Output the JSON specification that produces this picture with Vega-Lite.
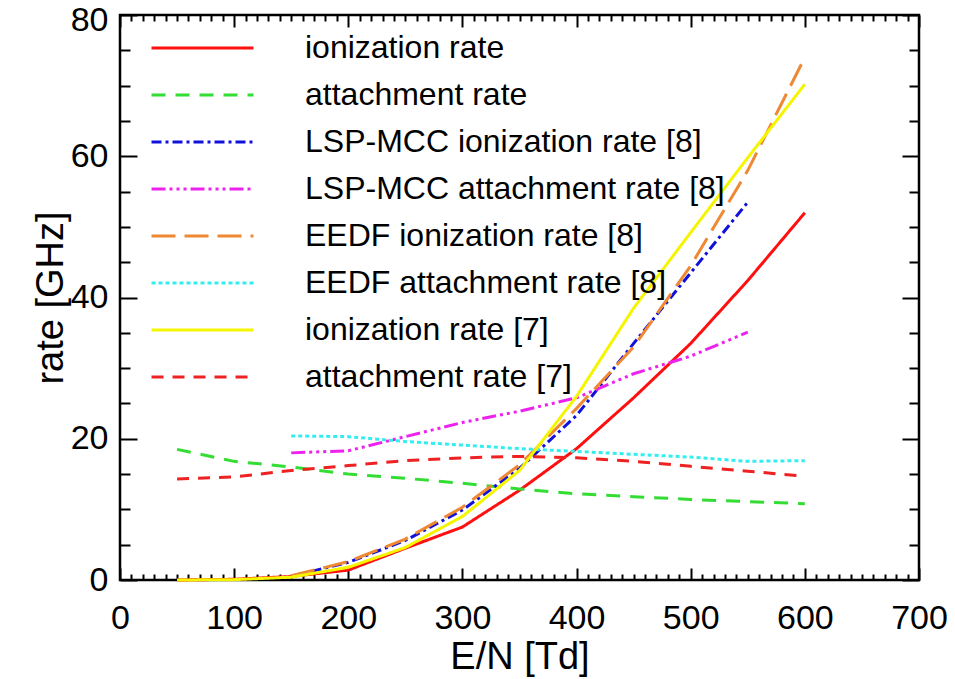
{
  "$schema": "https://vega.github.io/schema/vega-lite/v6.json",
  "width": 799,
  "height": 565,
  "autosize": "none",
  "padding": {"left": 120, "top": 15, "right": 36, "bottom": 99},
  "background": "white",
  "config": {
    "view": {"stroke": "black", "strokeWidth": 2.5},
    "font": "Liberation Sans"
  },
  "data": {
    "values": [
      {"series": "ionization rate", "E": 50, "rate": 0},
      {"series": "ionization rate", "E": 100, "rate": 0.1},
      {"series": "ionization rate", "E": 150, "rate": 0.5},
      {"series": "ionization rate", "E": 200, "rate": 1.4},
      {"series": "ionization rate", "E": 250, "rate": 4.5},
      {"series": "ionization rate", "E": 300, "rate": 7.5},
      {"series": "ionization rate", "E": 350, "rate": 12.7},
      {"series": "ionization rate", "E": 400, "rate": 18.6},
      {"series": "ionization rate", "E": 450, "rate": 25.8},
      {"series": "ionization rate", "E": 500, "rate": 33.5},
      {"series": "ionization rate", "E": 550, "rate": 42.4},
      {"series": "ionization rate", "E": 600, "rate": 52},
      {"series": "attachment rate", "E": 50, "rate": 18.5},
      {"series": "attachment rate", "E": 100, "rate": 16.8},
      {"series": "attachment rate", "E": 150, "rate": 16},
      {"series": "attachment rate", "E": 200, "rate": 15},
      {"series": "attachment rate", "E": 250, "rate": 14.4},
      {"series": "attachment rate", "E": 300, "rate": 13.7},
      {"series": "attachment rate", "E": 350, "rate": 12.9},
      {"series": "attachment rate", "E": 400, "rate": 12.2},
      {"series": "attachment rate", "E": 450, "rate": 11.8},
      {"series": "attachment rate", "E": 500, "rate": 11.4},
      {"series": "attachment rate", "E": 550, "rate": 11.1},
      {"series": "attachment rate", "E": 600, "rate": 10.8},
      {"series": "LSP-MCC ionization rate [8]", "E": 150, "rate": 0.5},
      {"series": "LSP-MCC ionization rate [8]", "E": 200, "rate": 2.5},
      {"series": "LSP-MCC ionization rate [8]", "E": 250, "rate": 5.6},
      {"series": "LSP-MCC ionization rate [8]", "E": 300, "rate": 9.9},
      {"series": "LSP-MCC ionization rate [8]", "E": 350, "rate": 15.8},
      {"series": "LSP-MCC ionization rate [8]", "E": 400, "rate": 23.3},
      {"series": "LSP-MCC ionization rate [8]", "E": 450, "rate": 33.5},
      {"series": "LSP-MCC ionization rate [8]", "E": 500, "rate": 43.5},
      {"series": "LSP-MCC ionization rate [8]", "E": 550, "rate": 53.5},
      {"series": "LSP-MCC attachment rate [8]", "E": 150, "rate": 18.0},
      {"series": "LSP-MCC attachment rate [8]", "E": 200, "rate": 18.3},
      {"series": "LSP-MCC attachment rate [8]", "E": 250, "rate": 20.3},
      {"series": "LSP-MCC attachment rate [8]", "E": 300, "rate": 22.3},
      {"series": "LSP-MCC attachment rate [8]", "E": 350, "rate": 23.9},
      {"series": "LSP-MCC attachment rate [8]", "E": 400, "rate": 25.8},
      {"series": "LSP-MCC attachment rate [8]", "E": 450, "rate": 29.2},
      {"series": "LSP-MCC attachment rate [8]", "E": 500, "rate": 31.7},
      {"series": "LSP-MCC attachment rate [8]", "E": 550, "rate": 35.1},
      {"series": "EEDF ionization rate [8]", "E": 150, "rate": 0.6},
      {"series": "EEDF ionization rate [8]", "E": 200, "rate": 2.6},
      {"series": "EEDF ionization rate [8]", "E": 250, "rate": 5.8},
      {"series": "EEDF ionization rate [8]", "E": 300, "rate": 10.3},
      {"series": "EEDF ionization rate [8]", "E": 350, "rate": 16.3},
      {"series": "EEDF ionization rate [8]", "E": 400, "rate": 24.3},
      {"series": "EEDF ionization rate [8]", "E": 450, "rate": 33},
      {"series": "EEDF ionization rate [8]", "E": 500, "rate": 44.5},
      {"series": "EEDF ionization rate [8]", "E": 550, "rate": 58},
      {"series": "EEDF ionization rate [8]", "E": 600, "rate": 74},
      {"series": "EEDF attachment rate [8]", "E": 150, "rate": 20.4},
      {"series": "EEDF attachment rate [8]", "E": 200, "rate": 20.3},
      {"series": "EEDF attachment rate [8]", "E": 250, "rate": 19.6},
      {"series": "EEDF attachment rate [8]", "E": 300, "rate": 19.1},
      {"series": "EEDF attachment rate [8]", "E": 350, "rate": 18.6},
      {"series": "EEDF attachment rate [8]", "E": 400, "rate": 18.2},
      {"series": "EEDF attachment rate [8]", "E": 450, "rate": 17.8},
      {"series": "EEDF attachment rate [8]", "E": 500, "rate": 17.4},
      {"series": "EEDF attachment rate [8]", "E": 550, "rate": 16.8},
      {"series": "EEDF attachment rate [8]", "E": 600, "rate": 16.9},
      {"series": "ionization rate [7]", "E": 50, "rate": 0},
      {"series": "ionization rate [7]", "E": 100, "rate": 0.05},
      {"series": "ionization rate [7]", "E": 150, "rate": 0.4},
      {"series": "ionization rate [7]", "E": 200, "rate": 1.8},
      {"series": "ionization rate [7]", "E": 250, "rate": 4.6},
      {"series": "ionization rate [7]", "E": 300, "rate": 9.0},
      {"series": "ionization rate [7]", "E": 350, "rate": 15.5},
      {"series": "ionization rate [7]", "E": 400, "rate": 26},
      {"series": "ionization rate [7]", "E": 450, "rate": 38.5},
      {"series": "ionization rate [7]", "E": 500, "rate": 49.2},
      {"series": "ionization rate [7]", "E": 550, "rate": 59.8},
      {"series": "ionization rate [7]", "E": 600, "rate": 70.2},
      {"series": "attachment rate [7]", "E": 50, "rate": 14.3},
      {"series": "attachment rate [7]", "E": 100, "rate": 14.6},
      {"series": "attachment rate [7]", "E": 150, "rate": 15.5},
      {"series": "attachment rate [7]", "E": 200, "rate": 16.2},
      {"series": "attachment rate [7]", "E": 250, "rate": 16.9},
      {"series": "attachment rate [7]", "E": 300, "rate": 17.3},
      {"series": "attachment rate [7]", "E": 350, "rate": 17.5},
      {"series": "attachment rate [7]", "E": 400, "rate": 17.3},
      {"series": "attachment rate [7]", "E": 450, "rate": 16.8},
      {"series": "attachment rate [7]", "E": 500, "rate": 16.1},
      {"series": "attachment rate [7]", "E": 550, "rate": 15.4},
      {"series": "attachment rate [7]", "E": 600, "rate": 14.7}
    ]
  },
  "layer": [
    {
      "mark": {"type": "line", "strokeWidth": 3},
      "encoding": {
        "x": {
          "field": "E", "type": "quantitative",
          "scale": {"domain": [0, 700], "nice": false},
          "axis": {
            "orient": "bottom",
            "values": [0,10,20,30,40,50,60,70,80,90,100,110,120,130,140,150,160,170,180,190,200,210,220,230,240,250,260,270,280,290,300,310,320,330,340,350,360,370,380,390,400,410,420,430,440,450,460,470,480,490,500,510,520,530,540,550,560,570,580,590,600,610,620,630,640,650,660,670,680,690,700],
            "labelExpr": "datum.value % 100 === 0 ? datum.label : ''",
            "tickSize": {"condition": {"test": "datum.value % 100 === 0", "value": -12}, "value": -6},
            "tickColor": "black", "tickWidth": 2,
            "domain": false, "grid": false,
            "labelFont": "Liberation Sans", "labelFontSize": 34, "labelColor": "black",
            "labelPadding": 33, "labelOverlap": false, "labelFlush": false, "labelBound": false,
            "title": "E/N [Td]", "titleFont": "Liberation Sans", "titleFontSize": 38,
            "titleFontWeight": "normal", "titleColor": "black", "titlePadding": -3
          }
        },
        "y": {
          "field": "rate", "type": "quantitative",
          "scale": {"domain": [0, 80], "nice": false},
          "axis": {
            "orient": "left",
            "values": [0,5,10,15,20,25,30,35,40,45,50,55,60,65,70,75,80],
            "labelExpr": "datum.value % 20 === 0 ? datum.label : ''",
            "tickSize": {"condition": {"test": "datum.value % 20 === 0", "value": -17}, "value": -10},
            "labelOffset": {"condition": {"test": "datum.value === 80", "value": 5}, "value": 0},
            "tickColor": "black", "tickWidth": 2,
            "domain": false, "grid": false,
            "labelFont": "Liberation Sans", "labelFontSize": 34, "labelColor": "black",
            "labelPadding": 29, "labelOverlap": false, "labelFlush": false, "labelBound": false,
            "title": "rate [GHz]", "titleFont": "Liberation Sans", "titleFontSize": 38,
            "titleFontWeight": "normal", "titleColor": "black", "titlePadding": 0
          }
        },
        "color": {
          "field": "series", "type": "nominal",
          "scale": {
            "domain": ["ionization rate", "attachment rate", "LSP-MCC ionization rate [8]", "LSP-MCC attachment rate [8]", "EEDF ionization rate [8]", "EEDF attachment rate [8]", "ionization rate [7]", "attachment rate [7]"],
            "range": ["#ff1010", "#33dd33", "#1010dd", "#ee22ee", "#ee8833", "#33eeee", "#f5f500", "#ee2222"]
          },
          "legend": {
            "orient": "none", "legendX": 30, "legendY": 17, "title": null,
            "symbolType": "stroke", "symbolSize": 10400, "symbolStrokeWidth": 3,
            "clipHeight": 32,
            "labelFont": "Liberation Sans", "labelFontSize": 32, "labelColor": "black",
            "labelLimit": 700, "labelOffset": 50, "rowPadding": 15, "padding": 0
          }
        },
        "strokeDash": {
          "field": "series", "type": "nominal",
          "scale": {
            "domain": ["ionization rate", "attachment rate", "LSP-MCC ionization rate [8]", "LSP-MCC attachment rate [8]", "EEDF ionization rate [8]", "EEDF attachment rate [8]", "ionization rate [7]", "attachment rate [7]"],
            "range": [[1, 0], [14, 10], [10, 4, 3, 4], [14, 4, 3, 4, 3, 4, 3, 4], [24, 9], [4, 3], [1, 0], [12, 9]]
          },
          "legend": {
            "orient": "none", "legendX": 30, "legendY": 17, "title": null,
            "symbolType": "stroke", "symbolSize": 10400, "symbolStrokeWidth": 3,
            "clipHeight": 32,
            "labelFont": "Liberation Sans", "labelFontSize": 32, "labelColor": "black",
            "labelLimit": 700, "labelOffset": 50, "rowPadding": 15, "padding": 0
          }
        }
      }
    },
    {
      "mark": {"type": "point", "opacity": 0},
      "encoding": {
        "x": {
          "field": "E", "type": "quantitative",
          "axis": {
            "orient": "top",
            "values": [0,10,20,30,40,50,60,70,80,90,100,110,120,130,140,150,160,170,180,190,200,210,220,230,240,250,260,270,280,290,300,310,320,330,340,350,360,370,380,390,400,410,420,430,440,450,460,470,480,490,500,510,520,530,540,550,560,570,580,590,600,610,620,630,640,650,660,670,680,690,700],
            "labels": false, "title": null, "domain": false, "grid": false,
            "tickSize": {"condition": {"test": "datum.value % 100 === 0", "value": -12}, "value": -6},
            "tickColor": "black", "tickWidth": 2
          }
        },
        "y": {
          "field": "rate", "type": "quantitative",
          "axis": {
            "orient": "right",
            "values": [0,5,10,15,20,25,30,35,40,45,50,55,60,65,70,75,80],
            "labels": false, "title": null, "domain": false, "grid": false,
            "tickSize": {"condition": {"test": "datum.value % 20 === 0", "value": -17}, "value": -10},
            "tickColor": "black", "tickWidth": 2
          }
        }
      }
    }
  ],
  "resolve": {"axis": {"x": "independent", "y": "independent"}}
}
